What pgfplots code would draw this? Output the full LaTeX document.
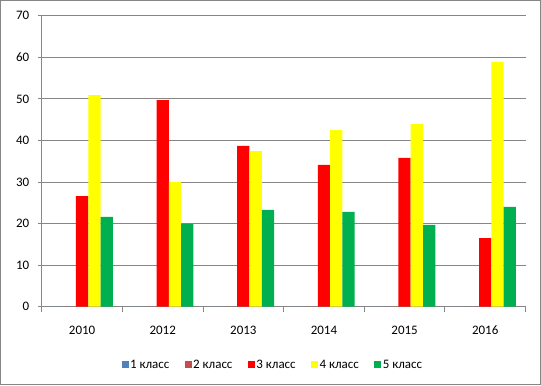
\documentclass[border=0pt]{standalone}
\usepackage{fontspec}
\setmainfont{Carlito}
\usepackage{pgfplots}
\pgfplotsset{compat=1.18}
\definecolor{gridgray}{HTML}{868686}
\definecolor{c1}{HTML}{4F81BD}
\definecolor{c2}{HTML}{C0504D}
\definecolor{c3}{HTML}{FF0000}
\definecolor{c4}{HTML}{FFFF00}
\definecolor{c5}{HTML}{00B050}
\begin{document}
\begin{tikzpicture}[x=1bp,y=1bp]
\useasboundingbox (0,0) rectangle (541,385);
\draw[gridgray, line width=1bp] (0.5,0.5) rectangle (540.5,384.5);
\begin{axis}[
  at={(41.8bp,78.3bp)}, anchor=south west,
  scale only axis, width=483.7bp, height=291bp,
  ybar=0pt, bar width=12.3bp,
  xmin=-0.5, xmax=5.5, ymin=0, ymax=70,
  xtick={0,...,5},
  xticklabels={2010,2012,2013,2014,2015,2016},
  minor xtick={-0.5,0.5,...,5.5},
  ytick={0,10,...,70},
  axis x line*=bottom, axis y line*=left,
  axis line style={draw=gridgray, line width=0.8bp, -},
  ymajorgrids, grid style={draw=gridgray, line width=0.8bp},
  tick align=outside,
  major tick length=4bp, minor tick length=5bp,
  tick style={draw=gridgray, line width=0.8bp},
  major x tick style={draw=none},
  /pgf/number format/assume math mode=true,
  tick label style={font=\fontsize{13}{15}\selectfont},
  xticklabel style={yshift=-12bp},
  yticklabel style={xshift=-5bp},
  legend columns=5,
  legend style={at={(0.477,-0.2)}, anchor=center, draw=none,
    font=\fontsize{13}{15}\selectfont,
    /tikz/every even column/.append style={column sep=14bp},
    nodes={inner sep=1.5bp}},
  legend image code/.code={\fill[#1] (0bp,-3.5bp) rectangle (7bp,3.5bp);},
]
\addplot[fill=c1, draw=none] coordinates {(0,0) (1,0) (2,0) (3,0) (4,0) (5,0)};
\addplot[fill=c2, draw=none] coordinates {(0,0) (1,0) (2,0) (3,0) (4,0) (5,0)};
\addplot[fill=c3, draw=none] coordinates {(0,26.6) (1,49.7) (2,38.7) (3,34.1) (4,35.8) (5,16.5)};
\addplot[fill=c4, draw=none] coordinates {(0,50.9) (1,30.0) (2,37.4) (3,42.5) (4,43.9) (5,58.9)};
\addplot[fill=c5, draw=none] coordinates {(0,21.6) (1,19.9) (2,23.3) (3,22.8) (4,19.7) (5,24.0)};
\legend{1 класс, 2 класс, 3 класс, 4 класс, 5 класс}
\end{axis}
\end{tikzpicture}
\end{document}
